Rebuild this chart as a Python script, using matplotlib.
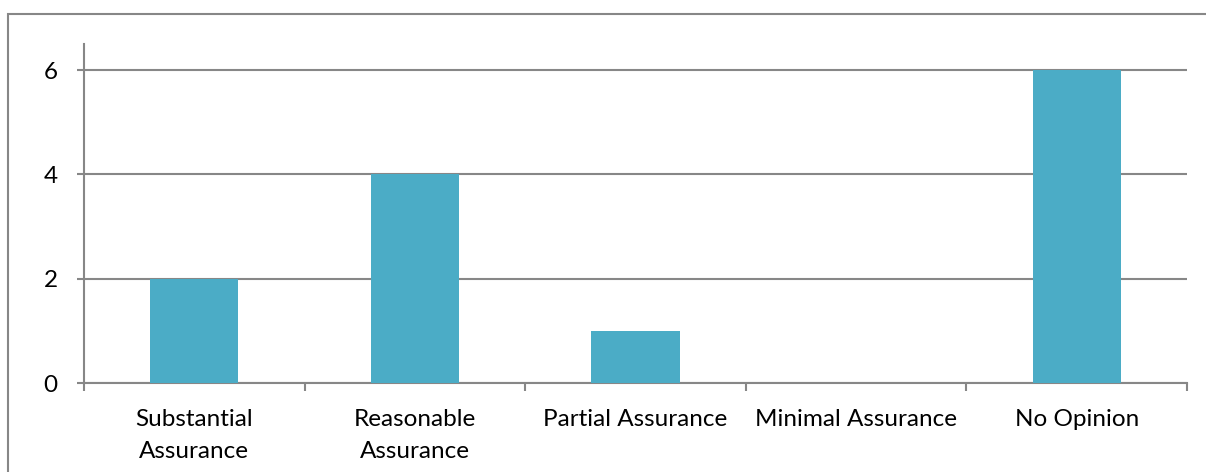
import matplotlib
matplotlib.use("Agg")
import matplotlib.pyplot as plt
from matplotlib.patches import Rectangle
import numpy as np

categories = ["Substantial\nAssurance", "Reasonable\nAssurance", "Partial Assurance",
              "Minimal Assurance", "No Opinion"]
counts = [2, 4, 1, 0, 6]
yticks = [0, 2, 4, 6]

plt.rcParams['font.family'] = ['Lato', 'DejaVu Sans']
grey = "#878787"
bar_color = "#4BACC6"

fig = plt.figure(figsize=(12.06, 4.72), dpi=100)
ax = fig.add_axes([84 / 1206, 1 - 383 / 472, (1187 - 84) / 1206, (383 - 44) / 472])

x = np.arange(len(categories))
ax.bar(x, counts, width=0.4, color=bar_color, zorder=3)

ax.set_xlim(-0.5, len(categories) - 0.5)
ax.set_ylim(0, 6.5)
ax.set_yticks(yticks)
ax.yaxis.grid(True, color=grey, linewidth=1.5, zorder=0)

# category labels centred, tick marks on the boundaries between them
ax.set_xticks(x)
ax.set_xticklabels(categories, fontsize=17.5, linespacing=1.6)
ax.tick_params(axis='x', length=0, pad=19)
ax.set_xticks(np.arange(-0.5, len(categories)), minor=True)
ax.tick_params(axis='x', which='minor', length=6, width=1.5, color=grey)
ax.tick_params(axis='y', length=5, width=1.5, color=grey, labelsize=17.5, pad=14)

for side in ['top', 'right']:
    ax.spines[side].set_visible(False)
for side in ['left', 'bottom']:
    ax.spines[side].set_color(grey)
    ax.spines[side].set_linewidth(1.5)

# chart-area frame
fig.patches.append(Rectangle((8 / 1206, -0.1), 1.2, 1.1 - 14 / 472,
                             transform=fig.transFigure, fill=False,
                             edgecolor=grey, linewidth=1.5, zorder=0))

fig.savefig("out.png", dpi=100)
